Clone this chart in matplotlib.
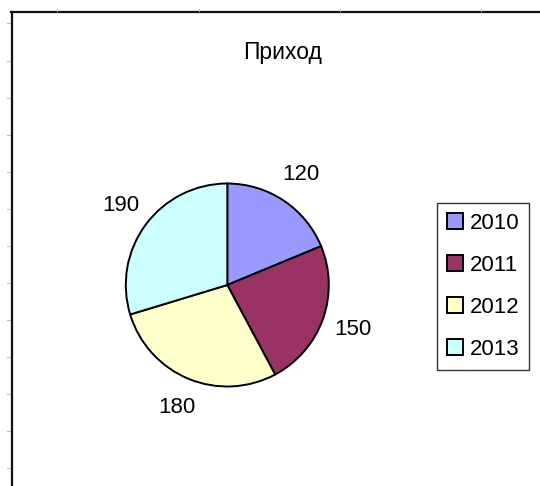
import matplotlib
matplotlib.use("Agg")
import matplotlib.pyplot as plt
from matplotlib.lines import Line2D

title = "Приход"
years = ["2010", "2011", "2012", "2013"]
values = [120, 150, 180, 190]
colors = ["#9999FF", "#993366", "#FFFFCC", "#CCFFFF"]

W, H = 540, 486
fig = plt.figure(figsize=(W / 100, H / 100), dpi=100)
fig.patch.set_facecolor("white")
plt.rcParams["font.family"] = ["Liberation Sans", "DejaVu Sans"]

# pie axes: center (227, 285), radius ~101.5 px
cx, cy, r = 227.3, 285, 101.5
ax = fig.add_axes([(cx - r) / W, (H - cy - r) / H, 2 * r / W, 2 * r / H])
wedges, texts = ax.pie(
    values, colors=colors, startangle=90, counterclock=False,
    labels=[str(v) for v in values], labeldistance=1.31,
    wedgeprops=dict(edgecolor="black", linewidth=1.4),
    textprops=dict(fontsize=16, color="black"),
)
for t in texts:
    t.set_ha("center")
    t.set_va("center")
ax.set_xlim(-1, 1)
ax.set_ylim(-1, 1)

fig.text(283 / W, 1 - 53 / H, title, ha="center", va="center", fontsize=16.5, color="black")

leg = fig.legend(
    wedges, years, loc="upper left",
    bbox_to_anchor=(437 / W, 1 - 203 / H), borderaxespad=0,
    fontsize=16, frameon=True, fancybox=False, edgecolor="black",
    handlelength=0.7, handleheight=0.7, handletextpad=0.32,
    labelspacing=0.94, borderpad=0.45,
)
leg.get_frame().set_linewidth(1.0)

# chart area border (Excel-like)
fig.add_artist(Line2D([11.5 / W, 11.5 / W], [0, 1 - 12 / H], transform=fig.transFigure, color="#111111", lw=1.6))
fig.add_artist(Line2D([11 / W, 1], [1 - 12 / H, 1 - 12 / H], transform=fig.transFigure, color="#111111", lw=1.6))
left_ticks = [23, 61, 98, 135, 172, 209, 246, 283, 320, 357, 394, 431, 468]
for y in left_ticks:
    fig.add_artist(Line2D([7 / W, 10 / W], [1 - y / H, 1 - y / H], transform=fig.transFigure, color="#bbbbbb", lw=0.8))
top_ticks = [57, 199, 340, 481]
for x in top_ticks:
    fig.add_artist(Line2D([x / W, x / W], [1 - 9 / H, 1 - 11 / H], transform=fig.transFigure, color="#bbbbbb", lw=0.8))

fig.savefig("out.png", dpi=100)
